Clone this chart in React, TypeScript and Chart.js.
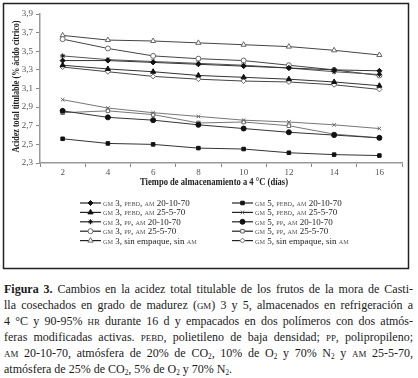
import React, { useEffect, useRef } from "react";
import { Chart, registerables } from "chart.js";
import { drawPoint } from "chart.js/helpers";

Chart.register(...registerables);

// ---- data ----
const days = ["2", "4", "6", "8", "10", "12", "14", "16"];
const yMin = 2.3;
const yMax = 3.9;
const yStep = 0.2;

const seriesLabels = [
  "GM 3, PEBD, AM 20-10-70",
  "GM 3, PEBD, AM 25-5-70",
  "GM 3, PP, AM 20-10-70",
  "GM 3, PP, AM 25-5-70",
  "GM 3, sin empaque, sin AM",
  "GM 5, PEBD, AM 20-10-70",
  "GM 5, PEBD, AM 25-5-70",
  "GM 5, PP, AM 20-10-70",
  "GM 5, PP, AM 25-5-70",
  "GM 5, sin empaque, sin AM",
];

const gm3PebdA = [3.40, 3.40, 3.38, 3.36, 3.34, 3.32, 3.30, 3.29];
const gm3PebdB = [3.35, 3.31, 3.28, 3.24, 3.22, 3.20, 3.17, 3.13];
const gm3PpA = [3.45, 3.41, 3.39, 3.37, 3.35, 3.32, 3.28, 3.25];
const gm3PpB = [3.63, 3.53, 3.45, 3.42, 3.40, 3.35, 3.30, 3.24];
const gm3Sin = [3.67, 3.62, 3.61, 3.59, 3.57, 3.55, 3.51, 3.46];
const gm5PebdA = [2.56, 2.51, 2.50, 2.46, 2.45, 2.41, 2.39, 2.38];
const gm5PebdB = [2.98, 2.89, 2.84, 2.80, 2.76, 2.74, 2.71, 2.67];
const gm5PpA = [2.86, 2.79, 2.76, 2.71, 2.67, 2.63, 2.60, 2.57];
const gm5PpB = [2.84, 2.86, 2.82, 2.73, 2.74, 2.70, 2.61, 2.57];
const gm5Sin = [3.33, 3.28, 3.23, 3.20, 3.18, 3.17, 3.14, 3.09];

const seriesValues = [gm3PebdA, gm3PebdB, gm3PpA, gm3PpB, gm3Sin, gm5PebdA, gm5PebdB, gm5PpA, gm5PpB, gm5Sin];

const pointStyles = ["rectRot", "triangle", "star", "circle", "triangle", "rect", "crossRot", "circle", "rect", "rectRot"];
const filled = [true, true, true, false, false, true, false, true, false, false];
const lineColors = ["#333", "#333", "#555", "#444", "#444", "#333", "#777", "#333", "#777", "#444"];

const yTitle = "Acidez total titulable (% ácido cítrico)";
const xTitle = "Tiempo de almacenamiento a 4 °C (días)";

const SERIF = "'Liberation Serif', 'DejaVu Serif', serif";

function drawFitted(ctx: CanvasRenderingContext2D, text: string, cx: number, cy: number, width: number, font: string, rotate: boolean) {
  ctx.save();
  ctx.font = font;
  const w = ctx.measureText(text).width;
  ctx.translate(cx, cy);
  if (rotate) ctx.rotate(-Math.PI / 2);
  ctx.scale(width / w, 1);
  ctx.textAlign = "center";
  ctx.textBaseline = "middle";
  ctx.fillText(text, 0, 0);
  ctx.restore();
}

function drawLegendText(ctx: CanvasRenderingContext2D, label: string, x: number, y: number) {
  const parts = label.split(/(GM|PEBD|PP|AM)/).filter((p) => p.length > 0);
  let cx = x;
  ctx.textAlign = "left";
  ctx.textBaseline = "alphabetic";
  for (const p of parts) {
    const small = /^(GM|PEBD|PP|AM)$/.test(p);
    ctx.font = small ? `6.2px ${SERIF}` : `9px ${SERIF}`;
    ctx.fillStyle = small ? "#555" : "#222";
    ctx.fillText(p, cx, y);
    cx += ctx.measureText(p).width;
  }
}

const decorPlugin = {
  id: "decor",
  afterDraw(chart: any) {
    const ctx: CanvasRenderingContext2D = chart.ctx;
    const area = chart.chartArea;
    // frame
    ctx.save();
    ctx.strokeStyle = "#222";
    ctx.lineWidth = 1.5;
    ctx.strokeRect(3.5, 3.5, 405, 265);
    ctx.restore();
    // axis titles
    ctx.save();
    ctx.fillStyle = "#222";
    drawFitted(ctx, yTitle, 17, (area.top + area.bottom) / 2 - 2, 132, `bold 9.5px ${SERIF}`, true);
    drawFitted(ctx, xTitle, 214, area.bottom + 20, 148, `bold 9.5px ${SERIF}`, false);
    ctx.restore();
    // legend
    chart.data.datasets.forEach((ds: any, i: number) => {
      const col = i < 5 ? 0 : 1;
      const row = i % 5;
      const x0 = col === 0 ? 80 : 232;
      const y = 203 + row * 9.4;
      ctx.save();
      ctx.strokeStyle = "#222";
      ctx.lineWidth = 1.2;
      ctx.beginPath();
      ctx.moveTo(x0, y);
      ctx.lineTo(x0 + 21, y);
      ctx.stroke();
      ctx.fillStyle = ds.pointBackgroundColor;
      ctx.strokeStyle = ds.pointBorderColor;
      ctx.lineWidth = 1;
      drawPoint(ctx, { pointStyle: ds.pointStyle, rotation: 0, radius: ds.pointRadius, borderWidth: 1 }, x0 + 10.5, y);
      ctx.restore();
      ctx.save();
      drawLegendText(ctx, ds.label, x0 + 23, y + 3);
      ctx.restore();
    });
  },
};

function ChartBox() {
  const ref = useRef<HTMLCanvasElement | null>(null);
  useEffect(() => {
    if (!ref.current) return;
    const datasets = seriesValues.map((vals, i) => ({
      label: seriesLabels[i],
      data: vals,
      borderColor: lineColors[i],
      borderWidth: 1,
      pointStyle: pointStyles[i],
      pointRadius: pointStyles[i] === "triangle" ? 3 : 2.5,
      pointBackgroundColor: filled[i] ? "#111" : "#fff",
      pointBorderColor: filled[i] ? "#111" : "#666",
      pointBorderWidth: 1,
      tension: 0,
      fill: false,
    }));
    const chart = new Chart(ref.current, {
      type: "line",
      data: { labels: days, datasets },
      options: {
        animation: false,
        responsive: false,
        maintainAspectRatio: false,
        layout: { padding: { left: 4, right: 16, top: 14, bottom: 0 } },
        plugins: { legend: { display: false }, tooltip: { enabled: false } },
        scales: {
          x: {
            type: "category",
            offset: true,
            grid: { display: true, drawOnChartArea: false, offset: true, tickLength: 4, color: "#888", lineWidth: 1 },
            border: { color: "#999", width: 1.5 },
            ticks: { padding: 0, color: "#555", font: { family: SERIF, size: 9 }, maxRotation: 0, autoSkip: false },
            afterFit: (s: any) => {
              s.height = 109;
            },
          },
          y: {
            min: yMin,
            max: yMax,
            grid: { display: true, drawOnChartArea: false, tickLength: 4, color: "#888", lineWidth: 1 },
            border: { color: "#999", width: 1.5 },
            ticks: {
              stepSize: yStep,
              padding: 3,
              color: "#555",
              font: { family: SERIF, size: 9 },
              callback: (v: any) => Number(v).toFixed(1).replace(".", ","),
            },
            afterFit: (s: any) => {
              s.width = 36;
            },
          },
        },
      },
      plugins: [decorPlugin],
    } as any);
    return () => chart.destroy();
  }, []);
  return <canvas ref={ref} width={418} height={272} style={{ position: "absolute", left: 0, top: 0, width: 418, height: 272 }} />;
}

const sc: React.CSSProperties = { fontSize: "0.74em" };
const sub: React.CSSProperties = { fontSize: "0.6em", verticalAlign: "-0.3em", lineHeight: 0 };
const lineJ: React.CSSProperties = { textAlign: "justify", textAlignLast: "justify" as any, whiteSpace: "nowrap", height: 16 };

export default function App() {
  return (
    <div style={{ position: "absolute", left: 0, top: 0, width: 418, height: 378, background: "#fff", overflow: "hidden" }}>
      <ChartBox />
      <div
        style={{
          position: "absolute",
          left: 4,
          top: 281,
          width: 409,
          fontFamily: SERIF,
          fontSize: 12,
          lineHeight: "16px",
          color: "#1a1a1a",
        }}
      >
        <div style={lineJ}>
          <b>Figura 3.</b> Cambios en la acidez total titulable de los frutos de la mora de Casti-
        </div>
        <div style={lineJ}>
          lla cosechados en grado de madurez (<span style={sc}>GM</span>) 3 y 5, almacenados en refrigeración a
        </div>
        <div style={lineJ}>
          4 °C y 90-95% <span style={sc}>HR</span> durante 16 d y empacados en dos polímeros con dos atmós-
        </div>
        <div style={lineJ}>
          feras modificadas activas. <span style={sc}>PEBD</span>, polietileno de baja densidad; <span style={sc}>PP</span>, polipropileno;
        </div>
        <div style={lineJ}>
          <span style={sc}>AM</span> 20-10-70, atmósfera de 20% de CO<sub style={sub}>2</sub>, 10% de O<sub style={sub}>2</sub> y 70% N
          <sub style={sub}>2</sub> y <span style={sc}>AM</span> 25-5-70,
        </div>
        <div style={{ whiteSpace: "nowrap", height: 16 }}>
          atmósfera de 25% de CO<sub style={sub}>2</sub>, 5% de O<sub style={sub}>2</sub> y 70% N<sub style={sub}>2</sub>.
        </div>
      </div>
    </div>
  );
}
